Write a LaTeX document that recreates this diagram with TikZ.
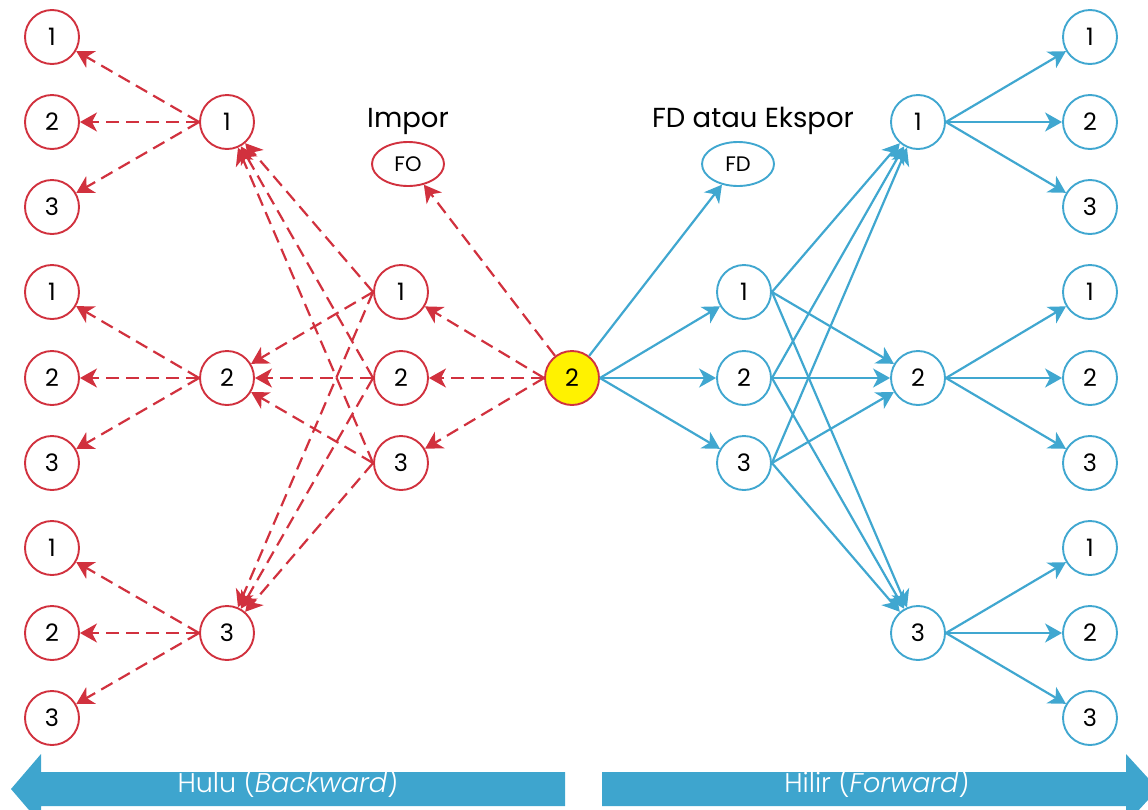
\documentclass[tikz,border=0pt]{standalone}
\usepackage{fontspec}
\setmainfont{Poppins}
\newfontfamily\bandfont{Poppins Light}[ItalicFont={Poppins Light Italic}]
\usetikzlibrary{arrows.meta,shapes.geometric}
\definecolor{upred}{RGB}{209,49,62}
\definecolor{downblue}{RGB}{64,167,208}
\definecolor{bandblue}{RGB}{62,165,206}
\definecolor{hub}{RGB}{255,242,0}
\tikzset{
  redn/.style={circle,draw=upred,line width=1.9pt,minimum size=54pt,inner sep=0pt,fill=white,
    font=\fontsize{24}{28}\selectfont},
  bluen/.style={redn,draw=downblue},
  ovl/.style={ellipse,draw=#1,line width=1.9pt,minimum width=72pt,minimum height=44pt,inner sep=0pt,
    font=\fontsize{21}{25}\selectfont},
  lbl/.style={font=\fontsize{27.5}{32}\selectfont},
  tip/.style={-{Stealth[length=17pt,width=19pt,inset=5pt]}},
  back/.style={draw=upred,line width=2.2pt,dash pattern=on 13pt off 7pt,tip},
  fwd/.style={draw=downblue,line width=2.2pt,tip},
  band/.style={fill=bandblue,draw=none},
  bandtxt/.style={text=white,font=\bandfont\fontsize{27}{32}\selectfont}
}
\begin{document}
\begin{tikzpicture}[x=1pt,y=-1pt]
\useasboundingbox (0,0) rectangle (1148,809);

% upstream suppliers (three groups)
\foreach \i/\y/\t in {1/37/1,2/122/2,3/207/3,4/292/1,5/378/2,6/463/3,7/548/1,8/633/2,9/718/3}
  \node[redn] (a\i) at (52,\y) {\t};
\node[redn] (l1) at (227,122) {1};
\node[redn] (l2) at (227,378) {2};
\node[redn] (l3) at (227,633) {3};
\node[redn] (m1) at (401,292) {1};
\node[redn] (m2) at (401,378) {2};
\node[redn] (m3) at (401,463) {3};

% focal sector
\node[redn,fill=hub] (c) at (572,378) {2};

% final demand / imports
\node[ovl=upred] (fo) at (408,164) {FO};
\node[lbl] (imp) at (408,121) {Impor};
\node[ovl=downblue] (fd) at (738,164) {FD};
\node[lbl] (exp) at (753,121) {FD atau Ekspor};

% downstream users
\node[bluen] (r1) at (744,292) {1};
\node[bluen] (r2) at (744,378) {2};
\node[bluen] (r3) at (744,463) {3};
\node[bluen] (s1) at (918,122) {1};
\node[bluen] (s2) at (918,378) {2};
\node[bluen] (s3) at (918,633) {3};
\foreach \i/\y/\t in {1/37/1,2/122/2,3/207/3,4/292/1,5/378/2,6/463/3,7/548/1,8/633/2,9/718/3}
  \node[bluen] (b\i) at (1090,\y) {\t};

% backward linkages
\foreach \s/\a/\b/\c in {l1/a1/a2/a3,l2/a4/a5/a6,l3/a7/a8/a9}
  \foreach \t in {\a,\b,\c}
    \draw[back] (\s.west) -- (\t);
\foreach \s in {m1,m2,m3}
  \foreach \t in {l1,l2,l3}
    \draw[back] (\s.west) -- (\t);
\foreach \t in {m1,m2,m3}
  \draw[back] (c.west) -- (\t);
\draw[back] (c) -- (fo);

% forward linkages
\foreach \t in {r1,r2,r3}
  \draw[fwd] (c.east) -- (\t);
\draw[fwd] (c) -- (fd);
\foreach \s in {r1,r2,r3}
  \foreach \t in {s1,s2,s3}
    \draw[fwd] (\s.east) -- (\t);
\foreach \s/\a/\b/\c in {s1/b1/b2/b3,s2/b4/b5/b6,s3/b7/b8/b9}
  \foreach \t in {\a,\b,\c}
    \draw[fwd] (\s.east) -- (\t);

% direction bands
\fill[band] (11,789) -- (41,754) -- (41,772) -- (565,772) -- (565,806) -- (41,806) -- (41,824) -- cycle;
\fill[band] (602,772) -- (1126,772) -- (1126,754) -- (1158,789) -- (1126,824) -- (1126,806) -- (602,806) -- cycle;
\node[bandtxt] (hulu) at (288,782) {Hulu (\textit{Backward})};
\node[bandtxt] (hilir) at (877,782) {Hilir (\textit{Forward})};
\end{tikzpicture}
\end{document}
